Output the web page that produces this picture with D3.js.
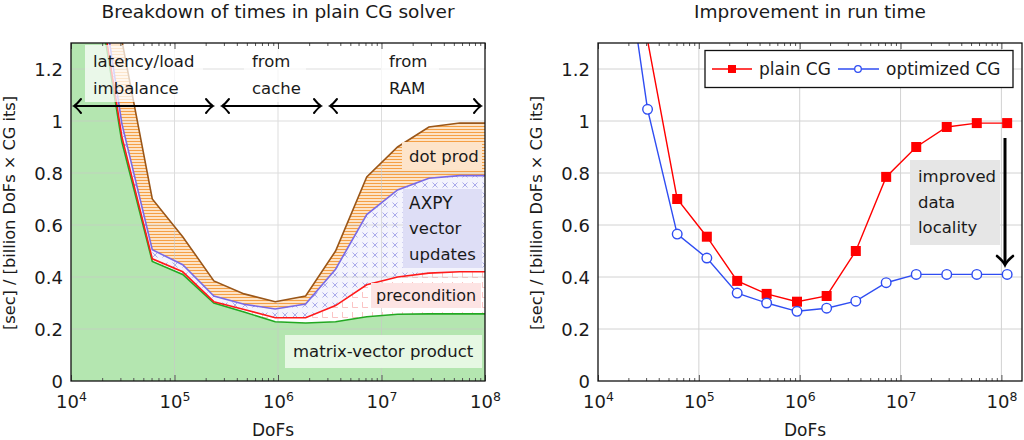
<!DOCTYPE html>
<html>
<head>
<meta charset="utf-8">
<script src="https://cdn.jsdelivr.net/npm/d3@7"></script>
<style>
  body { margin: 0; background: #fff; }
  text { font-family: "DejaVu Sans", sans-serif; fill: #1a1a1a; }
</style>
</head>
<body>
<svg width="1024" height="440"></svg>
<script>
// DoFs sampled (doubling), first two points lie outside the drawn range
const dofs    = [7.7e3, 1.55e4, 3.1e4, 6.1e4, 1.2e5, 2.4e5, 4.7e5, 9.4e5, 1.85e6, 3.6e6, 7.2e6, 1.43e7, 2.87e7, 5.7e7, 1.14e8];

// breakdown of plain CG (component times, stacked)
const matvec  = [3.2, 1.66, 0.92, 0.46, 0.41, 0.30, 0.265, 0.228, 0.223, 0.228, 0.247, 0.257, 0.258, 0.258, 0.258];
const precond = [0.05, 0.04, 0.02, 0.01, 0.01, 0.005, 0.01, 0.015, 0.02, 0.062, 0.123, 0.143, 0.157, 0.162, 0.162];
const axpy    = [0.10, 0.08, 0.05, 0.035, 0.027, 0.022, 0.02, 0.034, 0.053, 0.14, 0.27, 0.335, 0.365, 0.37, 0.37];
const dotprod = [1.15, 0.62, 0.32, 0.195, 0.108, 0.058, 0.04, 0.028, 0.031, 0.07, 0.145, 0.165, 0.197, 0.202, 0.202];

// run times
const plainCG = [4.5, 2.4, 1.31, 0.70, 0.555, 0.385, 0.335, 0.305, 0.327, 0.50, 0.785, 0.90, 0.977, 0.992, 0.992];
const optCG   = [3.4, 1.85, 1.045, 0.565, 0.473, 0.338, 0.30, 0.268, 0.28, 0.307, 0.378, 0.41, 0.41, 0.41, 0.41];

const yTicks = [0, 0.2, 0.4, 0.6, 0.8, 1, 1.2];
const xDecades = [1e4, 1e5, 1e6, 1e7, 1e8];
const titles = ["Breakdown of times in plain CG solver", "Improvement in run time"];
const yLabel = "[sec] / [billion DoFs \u00d7 CG its]";
const xLabel = "DoFs";

var svg = d3.select("svg");
var defs = svg.append("defs");

// ---- fill patterns
var p = defs.append("pattern").attr("id", "pDot").attr("patternUnits", "userSpaceOnUse").attr("width", 6).attr("height", 3);
p.append("rect").attr("width", 6).attr("height", 3).attr("fill", "#fde3c6");
p.append("line").attr("x1", 0).attr("x2", 6).attr("y1", 0.5).attr("y2", 0.5).attr("stroke", "#f5a045").attr("stroke-width", 1);

p = defs.append("pattern").attr("id", "pAxpy").attr("patternUnits", "userSpaceOnUse").attr("width", 10).attr("height", 10);
p.append("rect").attr("width", 10).attr("height", 10).attr("fill", "#f4f4fd");
p.append("path").attr("d", "M2.5,2.5L7.5,7.5M2.5,7.5L7.5,2.5").attr("stroke", "#aaaaea").attr("stroke-width", 1);

p = defs.append("pattern").attr("id", "pPre").attr("patternUnits", "userSpaceOnUse").attr("width", 10).attr("height", 10);
p.append("rect").attr("width", 10).attr("height", 10).attr("fill", "#fff");
p.append("path").attr("d", "M2.5,2V7.5H8").attr("fill", "none").attr("stroke", "#fbc4c4").attr("stroke-width", 1);

function makeAxes(x0, x1, xMaxDomain) {
    var x = d3.scaleLog().domain([1e4, xMaxDomain]).range([x0, x1]);
    var y = d3.scaleLinear().domain([0, 1.3]).range([381, 43]);
    return { x: x, y: y };
}

function clip(id, x, y) {
    defs.append("clipPath").attr("id", id).append("rect")
        .attr("x", x.range()[0]).attr("y", y.range()[1])
        .attr("width", x.range()[1] - x.range()[0]).attr("height", y.range()[0] - y.range()[1]);
}

function drawGrid(g, x, y, opacity) {
    var grid = g.append("g").attr("stroke", "#c8c8c8").attr("stroke-width", 1).attr("opacity", opacity);
    grid.selectAll(".vx").data(xDecades.filter(d => x(d) > x.range()[0] + 1 && x(d) < x.range()[1] - 1)).enter()
        .append("line").attr("x1", d => x(d)).attr("x2", d => x(d)).attr("y1", y.range()[1]).attr("y2", y.range()[0]);
    grid.selectAll(".hy").data(yTicks.slice(1)).enter()
        .append("line").attr("x1", x.range()[0]).attr("x2", x.range()[1]).attr("y1", d => y(d)).attr("y2", d => y(d));
}

function drawFrame(g, x, y, title, titleX) {
    var xa = x.range(), ya = y.range();
    var minor = x.ticks().filter(d => Math.abs(Math.log10(d) - Math.round(Math.log10(d))) > 1e-6);
    var major = xDecades.filter(d => x(d) <= xa[1] + 0.5);

    // inside ticks, bottom and top
    g.append("g").attr("transform", "translate(0," + ya[0] + ")")
        .call(d3.axisBottom(x).tickValues(minor).tickSize(-3).tickFormat(""));
    g.append("g").attr("transform", "translate(0," + ya[0] + ")")
        .call(d3.axisBottom(x).tickValues(major).tickSize(-6).tickFormat(""));
    g.append("g").attr("transform", "translate(0," + ya[1] + ")")
        .call(d3.axisTop(x).tickValues(minor).tickSize(-3).tickFormat(""));
    g.append("g").attr("transform", "translate(0," + ya[1] + ")")
        .call(d3.axisTop(x).tickValues(major).tickSize(-6).tickFormat(""));
    g.selectAll(".domain").remove();
    g.selectAll(".tick line").attr("stroke", "#555");

    // y axis with labels
    var yl = g.append("g").attr("transform", "translate(" + xa[0] + ",0)")
        .call(d3.axisLeft(y).tickValues(yTicks).tickSize(0).tickPadding(8).tickFormat(d3.format("~g")));
    yl.select(".domain").remove();
    yl.selectAll("text").attr("font-size", 18).attr("font-family", "DejaVu Sans").attr("fill", "#1a1a1a").attr("dy", "0.36em");

    // x decade labels 10^n
    var xl = g.append("g").attr("transform", "translate(0," + ya[0] + ")")
        .call(d3.axisBottom(x).tickValues(major).tickSize(0).tickPadding(0).tickFormat(""));
    xl.select(".domain").remove();
    xl.selectAll(".tick").append("text")
        .attr("y", 27).attr("text-anchor", "middle").attr("fill", "#1a1a1a").attr("font-size", 18)
        .each(function (d) {
            var t = d3.select(this);
            t.append("tspan").text("10");
            t.append("tspan").attr("font-size", 12.5).attr("dy", -7).text(Math.round(Math.log10(d)));
        });

    // frame
    g.append("rect").attr("x", xa[0]).attr("y", ya[1]).attr("width", xa[1] - xa[0]).attr("height", ya[0] - ya[1])
        .attr("fill", "none").attr("stroke", "#111").attr("stroke-width", 1.3);

    g.append("text").attr("x", titleX).attr("y", 18).attr("text-anchor", "middle").attr("font-size", 18.5).text(title);
    g.append("text").attr("x", titleX - 5).attr("y", 436).attr("text-anchor", "middle").attr("font-size", 17).text(xLabel);
    g.append("text").attr("transform", "translate(" + (xa[0] - 56) + ",213) rotate(-90)")
        .attr("text-anchor", "middle").attr("font-size", 16.2).text(yLabel);
}

function labelBox(g, x, y, w, h, fill, opacity) {
    g.append("rect").attr("x", x).attr("y", y).attr("width", w).attr("height", h)
        .attr("fill", fill).attr("opacity", opacity == null ? 1 : opacity);
}

function lines(g, x0, lineList, baseline, step, size, color) {
    lineList.forEach((s, i) => {
        g.append("text").attr("x", x0).attr("y", baseline + i * step).attr("font-size", size)
            .attr("fill", color || "#1a1a1a").text(s);
    });
}

function chevron(g, x, y, dir, size) {
    // open arrow tip pointing in direction dir (1 right, -1 left)
    var s = size;
    g.append("path")
        .attr("d", "M" + (x - dir * s) + "," + (y - s) + "Q" + (x - dir * s * 0.35) + "," + (y - s * 0.2) + " " + x + "," + y +
                   "Q" + (x - dir * s * 0.35) + "," + (y + s * 0.2) + " " + (x - dir * s) + "," + (y + s))
        .attr("fill", "none").attr("stroke", "#000").attr("stroke-width", 2).attr("stroke-linecap", "round");
}

// ================= left chart
var A = makeAxes(71, 485, 1e8);
clip("clipL", A.x, A.y);
var gl = svg.append("g");

var table = dofs.map((d, i) => ({ dofs: d, matvec: matvec[i], precond: precond[i], axpy: axpy[i], dot: dotprod[i] }));
var series = d3.stack().keys(["matvec", "precond", "axpy", "dot"])(table);
var fills = { matvec: "#b4e6b0", precond: "url(#pPre)", axpy: "url(#pAxpy)", dot: "url(#pDot)" };
var edges = { matvec: "#22a822", precond: "#ff1a1a", axpy: "#7a6ae6", dot: "#9a5618" };

var area = d3.area().x(d => A.x(d.data.dofs)).y0(d => A.y(d[0])).y1(d => A.y(d[1]));
var topLine = d3.line().x(d => A.x(d.data.dofs)).y(d => A.y(d[1]));

var plotL = gl.append("g").attr("clip-path", "url(#clipL)");
plotL.selectAll(".area").data(series).enter().append("path")
    .attr("d", area).attr("fill", d => fills[d.key]);
drawGrid(plotL, A.x, A.y, 0.6);
plotL.selectAll(".edge").data(series).enter().append("path")
    .attr("d", topLine).attr("fill", "none").attr("stroke", d => edges[d.key]).attr("stroke-width", 1.6);

// annotation boxes inside the plot
labelBox(gl, 85, 45, 118, 57, "#fff", 0.72);
labelBox(gl, 244, 45, 62, 57, "#fff", 0.72);
labelBox(gl, 381, 45, 58, 57, "#fff", 0.72);
lines(gl, 93, ["latency/load", "imbalance"], 67, 27, 16.5);
lines(gl, 252, ["from", "cache"], 67, 27, 16.5);
lines(gl, 389, ["from", "RAM"], 67, 27, 16.5);

// double arrows for the three regimes
[[74, 213], [222, 321], [330, 481]].forEach(r => {
    gl.append("line").attr("x1", r[0] + 1).attr("x2", r[1] - 1).attr("y1", 106).attr("y2", 106)
        .attr("stroke", "#000").attr("stroke-width", 2);
    chevron(gl, r[0], 106, -1, 7);
    chevron(gl, r[1], 106, 1, 7);
});

labelBox(gl, 402, 142, 80, 27, "#fde4ca");
lines(gl, 409, ["dot prod"], 162, 0, 16.5);
labelBox(gl, 403, 189, 79, 79, "#dedef6");
lines(gl, 409, ["AXPY"], 209, 0, 17, "#000");
lines(gl, 409, ["vector", "updates"], 234, 26, 16.5);
labelBox(gl, 371, 283, 110, 25, "#fde4e4");
lines(gl, 376, ["precondition"], 301, 0, 16);
labelBox(gl, 285, 335, 197, 33, "#e6f8e3");
lines(gl, 293, ["matrix-vector product"], 357, 0, 16.5);

drawFrame(gl, A.x, A.y, titles[0], 278);

// ================= right chart
var B = makeAxes(598, 1022, 1.6e8);
clip("clipR", B.x, B.y);
var gr = svg.append("g");
var plotR = gr.append("g").attr("clip-path", "url(#clipR)");
drawGrid(plotR, B.x, B.y, 0.8);

var red = "#ff0000", blue = "#2f4df2";
var runLine = d3.line().x(d => B.x(d[0])).y(d => B.y(d[1]));
var plainPts = dofs.map((d, i) => [d, plainCG[i]]);
var optPts = dofs.map((d, i) => [d, optCG[i]]);

plotR.append("path").attr("d", runLine(plainPts)).attr("fill", "none").attr("stroke", red).attr("stroke-width", 1.4);
plotR.append("path").attr("d", runLine(optPts)).attr("fill", "none").attr("stroke", blue).attr("stroke-width", 1.4);
plotR.selectAll(".sq").data(plainPts.filter(d => d[1] < 1.3)).enter().append("rect")
    .attr("x", d => B.x(d[0]) - 5).attr("y", d => B.y(d[1]) - 5).attr("width", 10).attr("height", 10).attr("fill", red);
plotR.selectAll(".ci").data(optPts.filter(d => d[1] < 1.3)).enter().append("circle")
    .attr("cx", d => B.x(d[0])).attr("cy", d => B.y(d[1])).attr("r", 4.8)
    .attr("fill", "#fff").attr("stroke", blue).attr("stroke-width", 1.4);

// legend
var lg = gr.append("g");
lg.append("rect").attr("x", 705).attr("y", 50.5).attr("width", 308).attr("height", 37)
    .attr("fill", "#fff").attr("stroke", "#111").attr("stroke-width", 1.3);
lg.append("line").attr("x1", 712).attr("x2", 752).attr("y1", 69).attr("y2", 69).attr("stroke", red).attr("stroke-width", 1.4);
lg.append("rect").attr("x", 728).attr("y", 65).attr("width", 8).attr("height", 8).attr("fill", red);
lg.append("text").attr("x", 759).attr("y", 75).attr("font-size", 17).text("plain CG");
lg.append("line").attr("x1", 838).attr("x2", 879).attr("y1", 69).attr("y2", 69).attr("stroke", blue).attr("stroke-width", 1.4);
lg.append("circle").attr("cx", 858).attr("cy", 69).attr("r", 3.3).attr("fill", "#fff").attr("stroke", blue).attr("stroke-width", 1.3);
lg.append("text").attr("x", 886).attr("y", 75).attr("font-size", 17).text("optimized CG");

// improvement annotation
labelBox(gr, 910, 160, 90, 85, "#e6e6e6");
lines(gr, 918, ["improved", "data", "locality"], 182, 25.5, 16.5);
gr.append("line").attr("x1", 1005).attr("x2", 1005).attr("y1", 138).attr("y2", 263)
    .attr("stroke", "#000").attr("stroke-width", 3);
gr.append("path").attr("d", "M997,256Q1003,261 1005,265Q1007,261 1013,256")
    .attr("fill", "none").attr("stroke", "#000").attr("stroke-width", 2.6).attr("stroke-linecap", "round");

drawFrame(gr, B.x, B.y, titles[1], 810);
</script>
</body>
</html>
